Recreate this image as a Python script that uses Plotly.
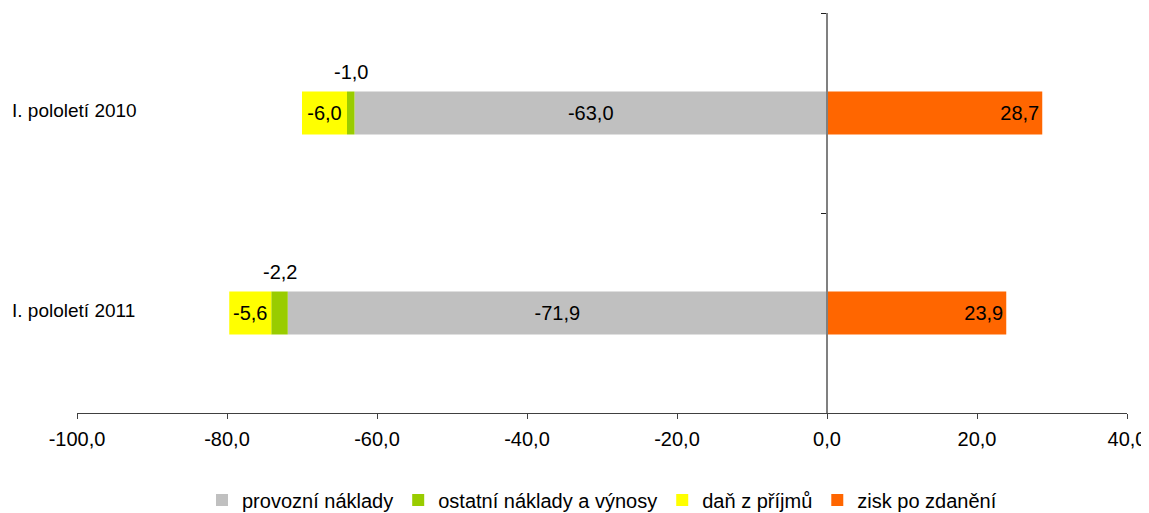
import plotly.graph_objects as go

categories = ["I. pololetí 2010", "I. pololetí 2011"]
provozni = [-63.0, -71.9]
ostatni = [-1.0, -2.2]
dan = [-6.0, -5.6]
zisk = [28.7, 23.9]

series_names = ["provozní náklady", "ostatní náklady a výnosy", "daň z příjmů", "zisk po zdanění"]
colors = ["#C0C0C0", "#99CC00", "#FFFF00", "#FF6600"]

tick_vals = [-100, -80, -60, -40, -20, 0, 20, 40]
tick_text = ["-100,0", "-80,0", "-60,0", "-40,0", "-20,0", "0,0", "20,0", "40,0"]


def fmt(v):
    return f"{v:.1f}".replace(".", ",")


FONT = "Liberation Sans, Arial, sans-serif"
FS = 20
fig = go.Figure()

data = [provozni, ostatni, dan, zisk]
anchors = ["middle", "middle", "middle", "end"]
for i, (name, vals, col) in enumerate(zip(series_names, data, colors)):
    show_text = i != 1
    fig.add_trace(go.Bar(
        y=categories, x=vals, name=name, orientation="h",
        marker=dict(color=col, line=dict(width=0)),
        width=0.215,
        text=[fmt(v) for v in vals] if show_text else None,
        textposition="inside" if show_text else "none",
        insidetextanchor=anchors[i],
        textfont=dict(family=FONT, size=FS, color="black"),
        constraintext="none",
        cliponaxis=False,
    ))

# labels above the thin green segment
for cat, p, o in zip(categories, provozni, ostatni):
    fig.add_annotation(x=p + o / 2, y=cat, xref="x", yref="y", text=fmt(o),
                       showarrow=False, yshift=41,
                       font=dict(family=FONT, size=FS, color="black"))

# category labels at left
for cat in categories:
    fig.add_annotation(x=-0.0638, y=cat, xref="paper", yref="y", text=cat,
                       showarrow=False, xanchor="left", yshift=3,
                       font=dict(family=FONT, size=19, color="black"))

# page body has an 8px margin: figure is shrunk so the plot area lands where it should
fig.update_layout(
    width=1141, height=505,
    margin=dict(l=69, r=22, t=5, b=100, autoexpand=False),
    barmode="relative",
    plot_bgcolor="white", paper_bgcolor="white",
    font=dict(family=FONT, size=FS, color="black"),
    showlegend=True,
    legend=dict(orientation="h", x=0.5, xanchor="center", y=-0.2175, yanchor="middle",
                font=dict(family=FONT, size=FS, color="black"),
                itemwidth=30, tracegroupgap=0, traceorder="normal"),
    xaxis=dict(range=[-100, 40], tickvals=tick_vals, ticktext=tick_text,
               showgrid=False, zeroline=False, showline=True, linecolor="#404040",
               linewidth=1, ticks="outside", ticklen=5, tickcolor="#404040",
               ticklabelstandoff=3,
               tickfont=dict(family=FONT, size=FS, color="black"), automargin=False),
    yaxis=dict(type="category", categoryorder="array", categoryarray=categories,
               range=[1.5, -0.5], showticklabels=False, showgrid=False, zeroline=False,
               showline=True, linecolor="#808080", linewidth=1.5,
               ticks="outside", tickson="boundaries", ticklen=5, tickcolor="#202020",
               anchor="free", position=100 / 140, automargin=False),
)

fig.write_html("out.html")
